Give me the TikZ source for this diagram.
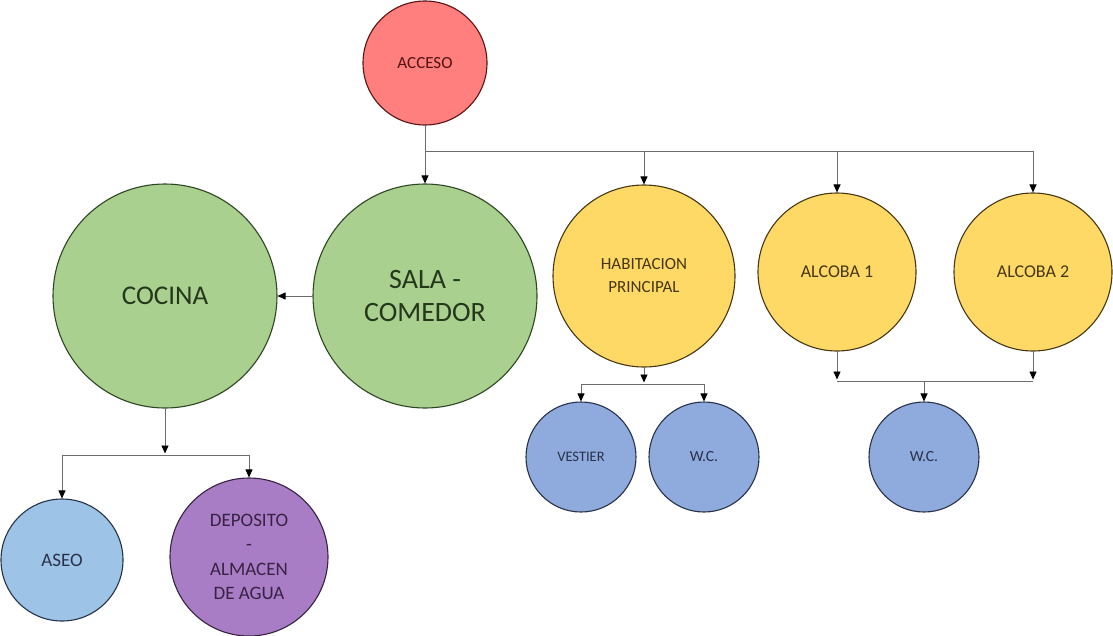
\documentclass[tikz,border=0pt]{standalone}
\usepackage{fontspec}
\setmainfont{Carlito}
\usetikzlibrary{arrows.meta}

\begin{document}
\begin{tikzpicture}[x=1pt, y=-1pt,
    room/.style={circle, draw, line width=1.1pt, inner sep=0pt, align=center},
    link/.style={draw=gray!85!black, line width=0.9pt},
    tip/.style={link, -{Triangle[length=8pt, width=7pt, color=black]}}]

  % Colors of the zones
  \definecolor{accfill}{RGB}{255,126,126}
  \definecolor{accline}{RGB}{90,20,20}
  \definecolor{socfill}{RGB}{169,208,142}
  \definecolor{socline}{RGB}{45,70,35}
  \definecolor{privfill}{RGB}{255,217,102}
  \definecolor{privline}{RGB}{70,55,20}
  \definecolor{servfill}{RGB}{143,170,220}
  \definecolor{servline}{RGB}{40,50,75}
  \definecolor{asefill}{RGB}{157,195,230}
  \definecolor{depfill}{RGB}{168,125,198}
  \definecolor{depline}{RGB}{55,35,65}

  \useasboundingbox (0,0) rectangle (1113,635);

  % Access and social zone
  \node[room, fill=accfill, draw=accline, text=accline!90!black, minimum size=124pt,
        font=\fontsize{17}{20}\selectfont] (acceso) at (425,63) {ACCESO};
  \node[room, fill=socfill, draw=socline, text=socline!80!black, minimum size=224pt,
        font=\fontsize{28}{33}\selectfont] (sala) at (425,296) {SALA -\\COMEDOR};
  \node[room, fill=socfill, draw=socline, text=socline!80!black, minimum size=224pt,
        font=\fontsize{27}{33}\selectfont] (cocina) at (165,296) {COCINA};

  % Private zone
  \node[room, fill=privfill, draw=privline, text=privline, minimum size=182pt,
        font=\fontsize{17}{23}\selectfont] (habitacion) at (644,276) {HABITACION\\PRINCIPAL};
  \node[room, fill=privfill, draw=privline, text=privline, minimum size=158pt,
        font=\fontsize{18}{22}\selectfont] (alcoba1) at (837,272) {ALCOBA 1};
  \node[room, fill=privfill, draw=privline, text=privline, minimum size=158pt,
        font=\fontsize{18}{22}\selectfont] (alcoba2) at (1033,272) {ALCOBA 2};

  % Service zone
  \node[room, fill=servfill, draw=servline, text=servline, minimum size=110pt,
        font=\fontsize{14.5}{18}\selectfont] (vestier) at (581,457) {VESTIER};
  \node[room, fill=servfill, draw=servline, text=servline, minimum size=110pt,
        font=\fontsize{15.5}{18}\selectfont] (wcuno) at (704,457) {W.C.};
  \node[room, fill=servfill, draw=servline, text=servline, minimum size=110pt,
        font=\fontsize{15.5}{18}\selectfont] (wcdos) at (924,457) {W.C.};
  \node[room, fill=asefill, draw=servline, text=servline, minimum size=122pt,
        font=\fontsize{19}{22}\selectfont] (aseo) at (62,560) {ASEO};
  \node[room, fill=depfill, draw=depline, text=depline, minimum size=158pt,
        font=\fontsize{19}{24.5}\selectfont] (deposito) at (249,557) {DEPOSITO\\-\\ALMACEN\\DE AGUA};

  % Branch levels
  \coordinate (accbus) at (0,151);
  \coordinate (cocbus) at (0,455);
  \coordinate (habbus) at (0,384);
  \coordinate (alcbus) at (0,381);
  \coordinate (wcdrop) at (924,381);

  % Connectors from the access
  \draw[tip] (acceso) -- (sala);
  \draw[link] (acceso |- accbus) -- (alcoba2 |- accbus);
  \foreach \room in {habitacion, alcoba1, alcoba2} {
    \draw[tip] (\room |- accbus) -- (\room);
  }
  \draw[tip] (sala) -- (cocina);

  % Kitchen branch
  \draw[tip, shorten >=1.5pt] (cocina) -- (cocina |- cocbus);
  \draw[link] (aseo |- cocbus) -- (deposito |- cocbus);
  \draw[tip] (aseo |- cocbus) -- (aseo);
  \draw[tip] (deposito |- cocbus) -- (deposito);

  % Master bedroom branch
  \draw[tip, shorten >=1.5pt] (habitacion) -- (habitacion |- habbus);
  \draw[link] (vestier |- habbus) -- (wcuno |- habbus);
  \draw[tip] (vestier |- habbus) -- (vestier);
  \draw[tip] (wcuno |- habbus) -- (wcuno);

  % Bedrooms share one W.C.
  \draw[tip, shorten >=1.5pt] (alcoba1) -- (alcoba1 |- alcbus);
  \draw[tip, shorten >=1.5pt] (alcoba2) -- (alcoba2 |- alcbus);
  \draw[link] (alcoba1 |- alcbus) -- (alcoba2 |- alcbus);
  \draw[tip] (wcdrop) -- (wcdos);

\end{tikzpicture}
\end{document}
